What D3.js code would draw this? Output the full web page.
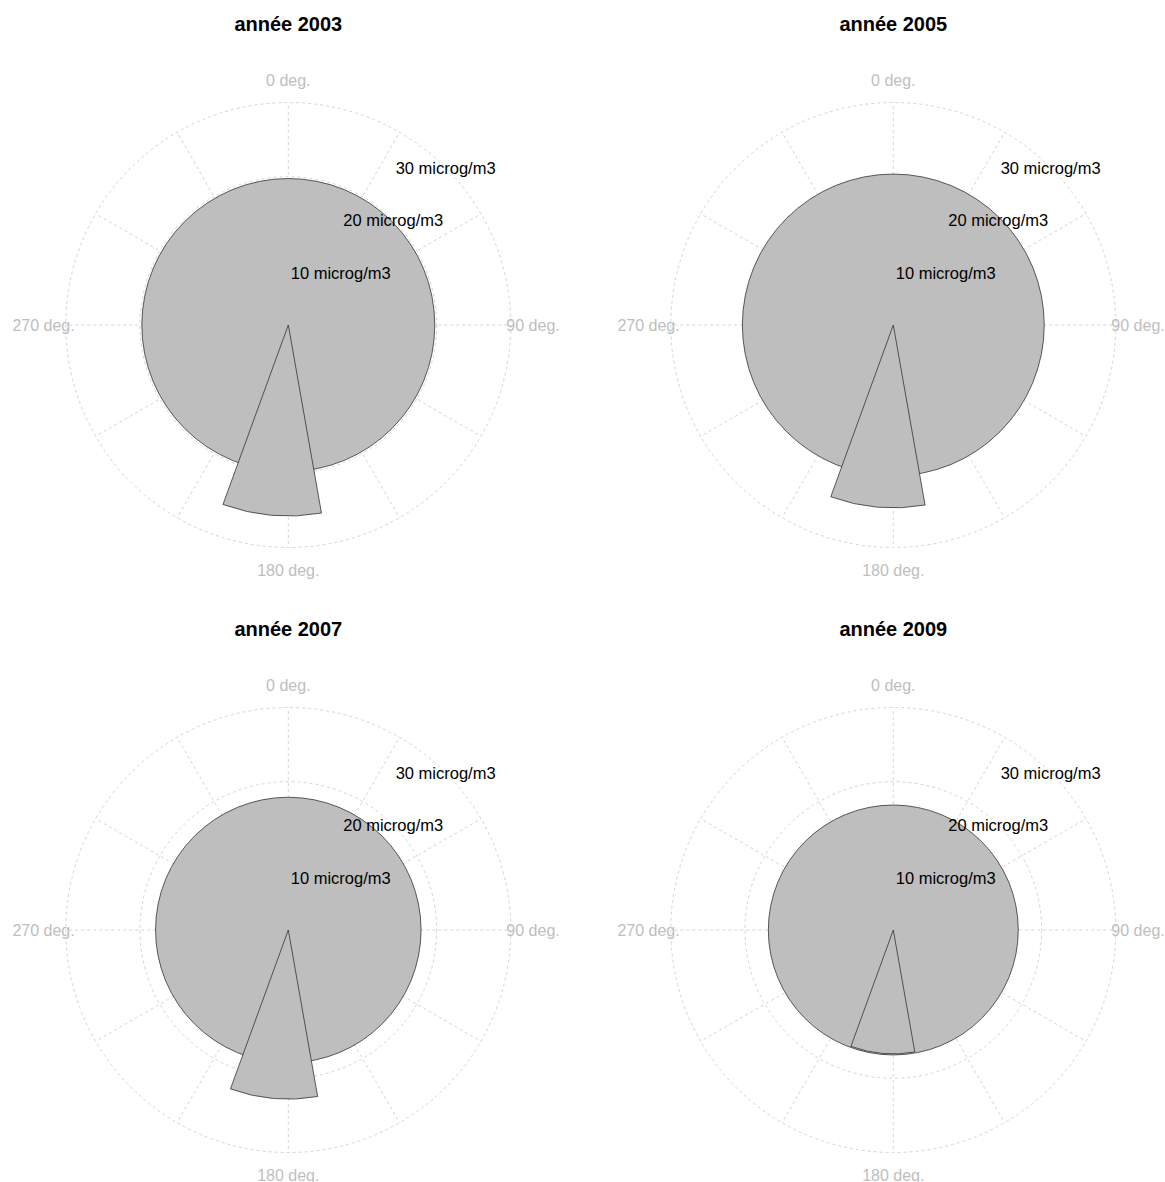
<!DOCTYPE html>
<html>
<head>
<meta charset="utf-8">
<script src="https://cdn.jsdelivr.net/npm/d3@7"></script>
<style>
  html, body { margin: 0; padding: 0; background: #ffffff; }
  svg { display: block; font-family: "Liberation Sans", Arial, sans-serif; }
</style>
</head>
<body>
<svg id="chart" width="1165" height="1182"></svg>
<script>
// ---- data ----
const years = ["2003", "2005", "2007", "2009"];
const titles = ["année 2003", "année 2005", "année 2007", "année 2009"];
// mean concentration (all other directions), microg/m3
const baseValues = [19.75, 20.35, 17.9, 16.85];
// concentration in the 170°–200° sector, microg/m3
const sectorValues = [25.75, 24.65, 22.8, 16.7];
const sectorStart = [170, 170, 170, 170];
const sectorEnd = [200, 200, 200, 200];
// grid
const ringValues = [10, 20, 30];
const ringLabels = ["10 microg/m3", "20 microg/m3", "30 microg/m3"];
const spokeAngles = [0, 30, 60, 90, 120, 150, 180, 210, 240, 270, 300, 330];
const dirAngles = [0, 90, 180, 270];
const dirLabels = ["0 deg.", "90 deg.", "180 deg.", "270 deg."];
const maxValue = 30;

// ---- layout ----
const svg = d3.select("#chart");
const centers = [[288.3, 325], [893.3, 325], [288.3, 930], [893.3, 930]];
const rScale = d3.scaleLinear().domain([0, maxValue]).range([0, 222.5]);
const rad = d => d * Math.PI / 180;
const gridColor = "#d4d4d4";

years.forEach((yr, i) => {
  const [cx, cy] = centers[i];
  const g = svg.append("g").attr("transform", `translate(${cx},${cy})`);

  // title
  g.append("text")
    .attr("x", 0).attr("y", -301)
    .attr("dy", "0.36em")
    .attr("text-anchor", "middle")
    .attr("font-size", "20px")
    .attr("font-weight", "bold")
    .attr("fill", "#000")
    .text(titles[i]);

  // grid rings
  g.selectAll("circle.ring").data(ringValues).join("circle")
    .attr("class", "ring")
    .attr("r", d => rScale(d))
    .attr("fill", "none")
    .attr("stroke", gridColor)
    .attr("stroke-width", 1)
    .attr("stroke-dasharray", "3,3");

  // spokes
  g.selectAll("line.spoke").data(spokeAngles).join("line")
    .attr("class", "spoke")
    .attr("x1", 0).attr("y1", 0)
    .attr("x2", a => rScale(maxValue) * Math.sin(rad(a)))
    .attr("y2", a => -rScale(maxValue) * Math.cos(rad(a)))
    .attr("stroke", gridColor)
    .attr("stroke-width", 1)
    .attr("stroke-dasharray", "3,3");

  // direction labels
  g.selectAll("text.dir").data(dirAngles).join("text")
    .attr("class", "dir")
    .attr("x", a => 1.1 * rScale(maxValue) * Math.sin(rad(a)))
    .attr("y", a => -1.1 * rScale(maxValue) * Math.cos(rad(a)))
    .attr("dy", "0.36em")
    .attr("text-anchor", "middle")
    .attr("font-size", "16px")
    .attr("fill", "#bebebe")
    .text((a, j) => dirLabels[j]);

  // base circle
  g.append("circle")
    .attr("r", rScale(baseValues[i]))
    .attr("fill", "#bebebe")
    .attr("stroke", "#333")
    .attr("stroke-width", 0.8);

  // sector wedge
  const arc = d3.arc()
    .innerRadius(0)
    .outerRadius(rScale(sectorValues[i]))
    .startAngle(rad(sectorStart[i]))
    .endAngle(rad(sectorEnd[i]));
  g.append("path")
    .attr("d", arc())
    .attr("fill", "#bebebe")
    .attr("stroke", "#333")
    .attr("stroke-width", 0.8)
    .attr("stroke-linejoin", "miter");

  // ring labels
  g.selectAll("text.ringlab").data(ringValues).join("text")
    .attr("class", "ringlab")
    .attr("x", d => rScale(d) * Math.sin(rad(45)))
    .attr("y", d => -rScale(d) * Math.cos(rad(45)))
    .attr("dy", "0.36em")
    .attr("text-anchor", "middle")
    .attr("font-size", "16.5px")
    .attr("fill", "#000")
    .text((d, j) => ringLabels[j]);
});
</script>
</body>
</html>
